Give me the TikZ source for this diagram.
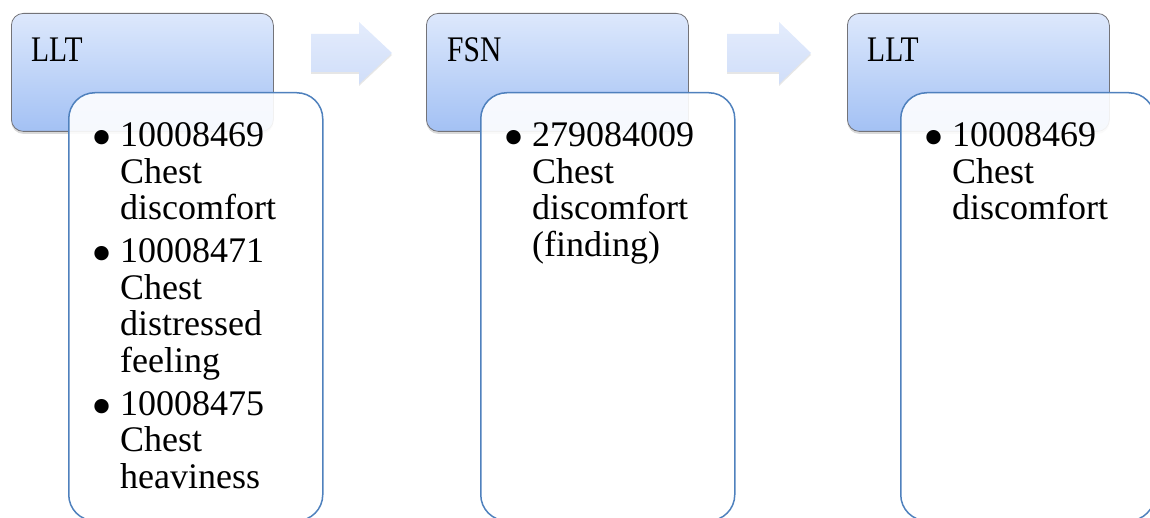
\documentclass[tikz,border=0pt]{standalone}
\usepackage{fontspec}
\setmainfont{Liberation Serif}
\newfontfamily\headfont[FakeStretch=0.82]{Liberation Serif}
\usetikzlibrary{shadows}
\definecolor{boxtop}{RGB}{221,232,252}
\definecolor{boxbot}{RGB}{163,193,244}
\definecolor{boxedge}{RGB}{115,115,120}
\definecolor{listedge}{RGB}{79,129,189}
\definecolor{arrtop}{RGB}{228,236,252}
\definecolor{arrbot}{RGB}{208,222,249}
\newcommand{\bul}{\llap{\raisebox{-11pt}{\fontsize{60}{60}\selectfont\textbullet}\hspace{8pt}}}
\begin{document}
\begin{tikzpicture}[x=1pt,y=-1pt,
 headbox/.style={draw=boxedge, line width=0.8pt, rounded corners=12pt, top color=boxtop, bottom color=boxbot,
   drop shadow={opacity=0.3, shadow xshift=0pt, shadow yshift=-2.5pt},
   minimum width=262pt, minimum height=118pt, anchor=north west, inner sep=0pt},
 listbox/.style={draw=listedge, line width=1.5pt, rounded corners=26pt, fill=white, fill opacity=0.9,
   minimum width=254pt, minimum height=428pt, anchor=north west, inner sep=0pt},
 headtext/.style={font=\headfont\fontsize{36}{36}\selectfont, anchor=base west, inner sep=0pt},
 listtext/.style={font=\fontsize{36}{36.5}\selectfont, align=left, anchor=base west, inner sep=0pt},
 flowarrow/.style={top color=arrtop, bottom color=arrbot,
   drop shadow={opacity=0.2, shadow xshift=0pt, shadow yshift=-2pt}}
]
\useasboundingbox (0,0) rectangle (1150,518);
\clip (0,0) rectangle (1150,518);

% stage 1 (anchor = baseline of the last line)
\node[headbox] (t1) at (11,13) {};
\node[headtext] (h1) at (31,62) {LLT};
\node[listbox] (l1) at (68,92) {};
\node[listtext] (x1) at (120,488) {\bul 10008469\\Chest\\discomfort\\[6.5pt]\bul 10008471\\Chest\\distressed\\feeling\\[6.5pt]\bul 10008475\\Chest\\heaviness};

% arrow 1
\path[flowarrow] (311,34) -- (359,34) -- (359,22) -- (392,53) -- (359,84) -- (359,72) -- (311,72) -- cycle;

% stage 2
\node[headbox] (t2) at (426,13) {};
\node[headtext] (h2) at (447,62) {FSN};
\node[listbox] (l2) at (480,92) {};
\node[listtext] (x2) at (532,256.5) {\bul 279084009\\Chest\\discomfort\\(finding)};

% arrow 2
\path[flowarrow] (727,34) -- (779,34) -- (779,22) -- (811,53) -- (779,84) -- (779,72) -- (727,72) -- cycle;

% stage 3
\node[headbox] (t3) at (847,13) {};
\node[headtext] (h3) at (867,62) {LLT};
\node[listbox] (l3) at (900,92) {};
\node[listtext] (x3) at (952,220) {\bul 10008469\\Chest\\discomfort};
\end{tikzpicture}
\end{document}
